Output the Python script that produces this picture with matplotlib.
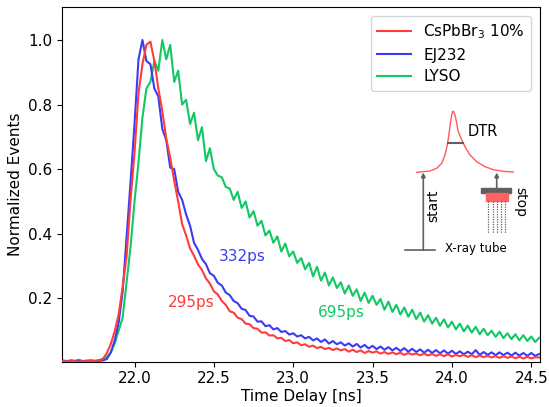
import numpy as np
import matplotlib
matplotlib.use('Agg')
import matplotlib.pyplot as plt

# time bins [ns], 25 ps wide
time_ns = np.linspace(21.55, 24.55, 121)

cspbbr3 = [
    0.006, 0.004, 0.007, 0.005, 0.004, 0.006, 0.005, 0.007, 0.006, 0.008,
    0.012, 0.030, 0.058, 0.098, 0.150, 0.235, 0.330, 0.505, 0.650, 0.835,
    0.925, 0.985, 0.995, 0.935, 0.850, 0.780, 0.695, 0.635, 0.565, 0.500,
    0.430, 0.395, 0.355, 0.332, 0.305, 0.288, 0.262, 0.246, 0.222, 0.212,
    0.192, 0.180, 0.160, 0.156, 0.140, 0.136, 0.122, 0.120, 0.108, 0.106,
    0.094, 0.095, 0.085, 0.086, 0.076, 0.078, 0.068, 0.071, 0.061, 0.064,
    0.055, 0.058, 0.050, 0.054, 0.046, 0.050, 0.043, 0.047, 0.040, 0.045,
    0.039, 0.043, 0.035, 0.041, 0.034, 0.039, 0.031, 0.037, 0.032, 0.036,
    0.029, 0.034, 0.028, 0.033, 0.027, 0.032, 0.025, 0.031, 0.026, 0.029,
    0.024, 0.029, 0.023, 0.028, 0.022, 0.027, 0.021, 0.027, 0.020, 0.025,
    0.021, 0.025, 0.019, 0.024, 0.018, 0.023, 0.018, 0.022, 0.017, 0.021,
    0.016, 0.021, 0.016, 0.020, 0.015, 0.019, 0.014, 0.019, 0.014, 0.018,
    0.017,
]

ej232 = [
    0.005, 0.006, 0.004, 0.005, 0.007, 0.004, 0.006, 0.005, 0.004, 0.006,
    0.008, 0.012, 0.032, 0.070, 0.125, 0.220, 0.390, 0.560, 0.740, 0.940,
    1.000, 0.935, 0.925, 0.850, 0.825, 0.725, 0.690, 0.605, 0.600, 0.530,
    0.505, 0.460, 0.425, 0.372, 0.350, 0.322, 0.306, 0.278, 0.270, 0.248,
    0.240, 0.218, 0.210, 0.192, 0.185, 0.168, 0.164, 0.146, 0.144, 0.128,
    0.129, 0.114, 0.117, 0.104, 0.108, 0.096, 0.099, 0.088, 0.092, 0.082,
    0.086, 0.076, 0.081, 0.070, 0.076, 0.065, 0.073, 0.060, 0.068, 0.058,
    0.064, 0.054, 0.061, 0.051, 0.059, 0.048, 0.056, 0.045, 0.053, 0.043,
    0.051, 0.041, 0.049, 0.039, 0.047, 0.037, 0.046, 0.035, 0.044, 0.034,
    0.042, 0.032, 0.041, 0.031, 0.040, 0.030, 0.039, 0.029, 0.038, 0.028,
    0.036, 0.027, 0.035, 0.027, 0.040, 0.025, 0.034, 0.025, 0.033, 0.024,
    0.033, 0.024, 0.032, 0.023, 0.032, 0.023, 0.031, 0.022, 0.031, 0.022,
    0.028,
]

lyso = [
    0.008, 0.006, 0.009, 0.007, 0.010, 0.006, 0.008, 0.009, 0.007, 0.009,
    0.012, 0.018, 0.032, 0.060, 0.100, 0.140, 0.250, 0.360, 0.500, 0.620,
    0.760, 0.850, 0.870, 0.935, 0.905, 1.000, 0.940, 0.985, 0.870, 0.905,
    0.800, 0.815, 0.740, 0.775, 0.690, 0.730, 0.625, 0.665, 0.600, 0.580,
    0.575, 0.545, 0.540, 0.505, 0.530, 0.480, 0.500, 0.450, 0.470, 0.425,
    0.440, 0.395, 0.410, 0.372, 0.392, 0.345, 0.370, 0.330, 0.345, 0.310,
    0.325, 0.290, 0.310, 0.268, 0.298, 0.255, 0.280, 0.240, 0.265, 0.232,
    0.250, 0.215, 0.240, 0.208, 0.228, 0.192, 0.218, 0.186, 0.208, 0.180,
    0.198, 0.165, 0.190, 0.158, 0.180, 0.150, 0.172, 0.143, 0.165, 0.136,
    0.156, 0.128, 0.148, 0.122, 0.140, 0.115, 0.135, 0.110, 0.128, 0.104,
    0.122, 0.098, 0.116, 0.094, 0.112, 0.089, 0.106, 0.086, 0.100, 0.081,
    0.097, 0.077, 0.092, 0.074, 0.089, 0.070, 0.086, 0.068, 0.082, 0.065,
    0.078,
]

labels = [r'CsPbBr$_3$ 10%', 'EJ232', 'LYSO']
colors = ['#ff3b3b', '#3b3bf5', '#10c864']
dtr_labels = ['295ps', '332ps', '695ps']
dtr_pos = [(22.36, 0.186), (22.68, 0.331), (23.30, 0.155)]

# schematic pulse in the inset (pixel-like units, y down)
pulse_x = [416.7, 430, 436.7, 441.7, 445, 447.3, 449.3, 451, 452, 452.9, 453.8,
           455, 456.5, 458.3, 461, 465, 470, 476.7, 485, 493.3, 503.3, 513.3]
pulse_y = [172.3, 171, 168.3, 163.3, 155, 145, 131.7, 119, 113.5, 111.2, 111.8,
           115, 122, 131.7, 138.3, 146.7, 155, 161.7, 166.7, 169.7, 171.3, 172]

plt.rcParams['font.family'] = 'DejaVu Sans'
plt.rcParams['font.size'] = 11

fig = plt.figure(figsize=(5.49, 4.07), dpi=100)
ax = fig.add_axes([0.1135, 0.1113, 0.8701, 0.8722])

series = [cspbbr3, ej232, lyso]
for s, lab, c, z in zip(series, labels, colors, [4, 3, 2]):
    ax.plot(time_ns, s, color=c, lw=1.5, label=lab, zorder=z)

for txt, (x, y), c in zip(dtr_labels, dtr_pos, colors):
    ax.text(x, y, txt, color=c, fontsize=11, ha='center', va='center')

ax.set_xlim(21.545, 24.555)
ax.set_ylim(0.004, 1.103)
ax.set_xticks([22.0, 22.5, 23.0, 23.5, 24.0, 24.5])
ax.set_yticks([0.2, 0.4, 0.6, 0.8, 1.0])
ax.set_xlabel('Time Delay [ns]', labelpad=2)
ax.set_ylabel('Normalized Events')
ax.legend(loc='upper right', fontsize=11, handlelength=2.2,
          borderaxespad=0.6, labelspacing=0.45)

# inset sketch of the measurement
W, H = 549, 407
x0, x1, y0, y1 = 400, 535, 100, 262
ins = fig.add_axes([x0 / W, 1 - y1 / H, (x1 - x0) / W, (y1 - y0) / H])
ins.set_xlim(x0, x1)
ins.set_ylim(y1, y0)
ins.axis('off')

gray = '#606060'
ins.plot(pulse_x, pulse_y, color='#ff5a5a', lw=1)
ins.plot([448.3, 463.3], [143.3, 143.3], color=gray, lw=1.5)
ins.text(468, 131, 'DTR', fontsize=10.5, va='center')

ins.plot([405, 435], [250, 250], color=gray, lw=1.2)
ins.annotate('', xy=(423.3, 172.5), xytext=(423.3, 250),
             arrowprops=dict(arrowstyle='-|>', color=gray, lw=1.2,
                             mutation_scale=6, shrinkA=0, shrinkB=0))
ins.text(433.5, 206, 'start', rotation=90, fontsize=10, ha='center', va='center')

ins.annotate('', xy=(496.7, 172.5), xytext=(496.7, 188.3),
             arrowprops=dict(arrowstyle='-|>', color=gray, lw=1.2,
                             mutation_scale=6, shrinkA=0, shrinkB=0))
ins.add_patch(plt.Rectangle((481, 188.3), 29.7, 4.4, color=gray))
ins.add_patch(plt.Rectangle((485.7, 192.7), 22.6, 8.3, color='#ff6060'))
for xd in [488.3, 492.7, 496.7, 501, 505]:
    ins.plot([xd, xd], [201, 233.3], color=gray, lw=0.9, ls=(0, (1, 1)))
ins.text(520, 202, 'stop', rotation=270, fontsize=10, ha='center', va='center')
ins.text(445, 248.5, 'X-ray tube', fontsize=8.5, va='center')

fig.savefig('out.png', dpi=100)
